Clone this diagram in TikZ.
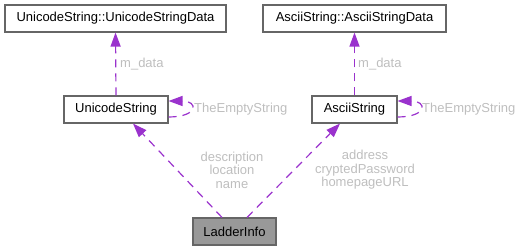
\documentclass[tikz,border=0pt]{standalone}
\usepackage{fontspec}
\setmainfont{Liberation Sans}
\usetikzlibrary{arrows.meta}
\definecolor{edgepurple}{HTML}{9A32CD}
\definecolor{boxline}{HTML}{666666}
\definecolor{labelgrey}{HTML}{BEBEBE}
\definecolor{focusfill}{HTML}{999999}
\begin{document}
\begin{tikzpicture}[x=1pt,y=-1pt,
  every node/.style={font=\fontsize{13}{16}\selectfont},
  classbox/.style={draw=boxline,line width=1.1pt,fill=white,inner sep=0pt,minimum height=27pt},
  focusbox/.style={classbox,fill=focusfill},
  dep/.style={draw=edgepurple,line width=1.2pt,dash pattern=on 8pt off 6pt,
    -{Triangle[length=14pt,width=10pt]}},
  edgelabel/.style={text=labelgrey,inner sep=0pt,align=center}]
\useasboundingbox (0,0) rectangle (523,251);

% classes
\node[classbox,minimum width=221pt] (usd) at (115.5,18.5) {UnicodeString::UnicodeStringData};
\node[classbox,minimum width=104pt] (us) at (116,109.5) {UnicodeString};
\node[classbox,minimum width=183pt] (asd) at (354.5,18.5) {AsciiString::AsciiStringData};
\node[classbox,minimum width=85pt] (as) at (354.5,109.5) {AsciiString};
\node[focusbox,minimum width=83pt] (li) at (234.5,231.5) {LadderInfo};

% member usages
\draw[dep] (us.north) -- (usd.south);
\draw[dep] (as.north) -- (asd.south);
\draw[dep] ([yshift=-7.5pt]us.east) .. controls +(30,0) and +(30,0) .. ([yshift=8.5pt]us.east);
\draw[dep] ([yshift=-7.5pt]as.east) .. controls +(30,0) and +(30,0) .. ([yshift=8.5pt]as.east);
\draw[dep] ([xshift=-12.5pt]li.north) -- ([xshift=17pt]us.south);
\draw[dep] ([xshift=12.5pt]li.north) -- ([xshift=-14.5pt]as.south);

% member names
\node[edgelabel,anchor=west] (lusd) at (120,64) {m\_data};
\node[edgelabel,anchor=west] (lasd) at (358,64) {m\_data};
\node[edgelabel,anchor=west] (lus) at (194,109) {TheEmptyString};
\node[edgelabel,anchor=west] (las) at (422,109) {TheEmptyString};
\node[edgelabel] (lli1) at (232,170) {description\\[-2.5pt]location\\[-2.5pt]name};
\node[edgelabel] (lli2) at (365,170) {address\\[-2.5pt]cryptedPassword\\[-2.5pt]homepageURL};
\end{tikzpicture}
\end{document}
